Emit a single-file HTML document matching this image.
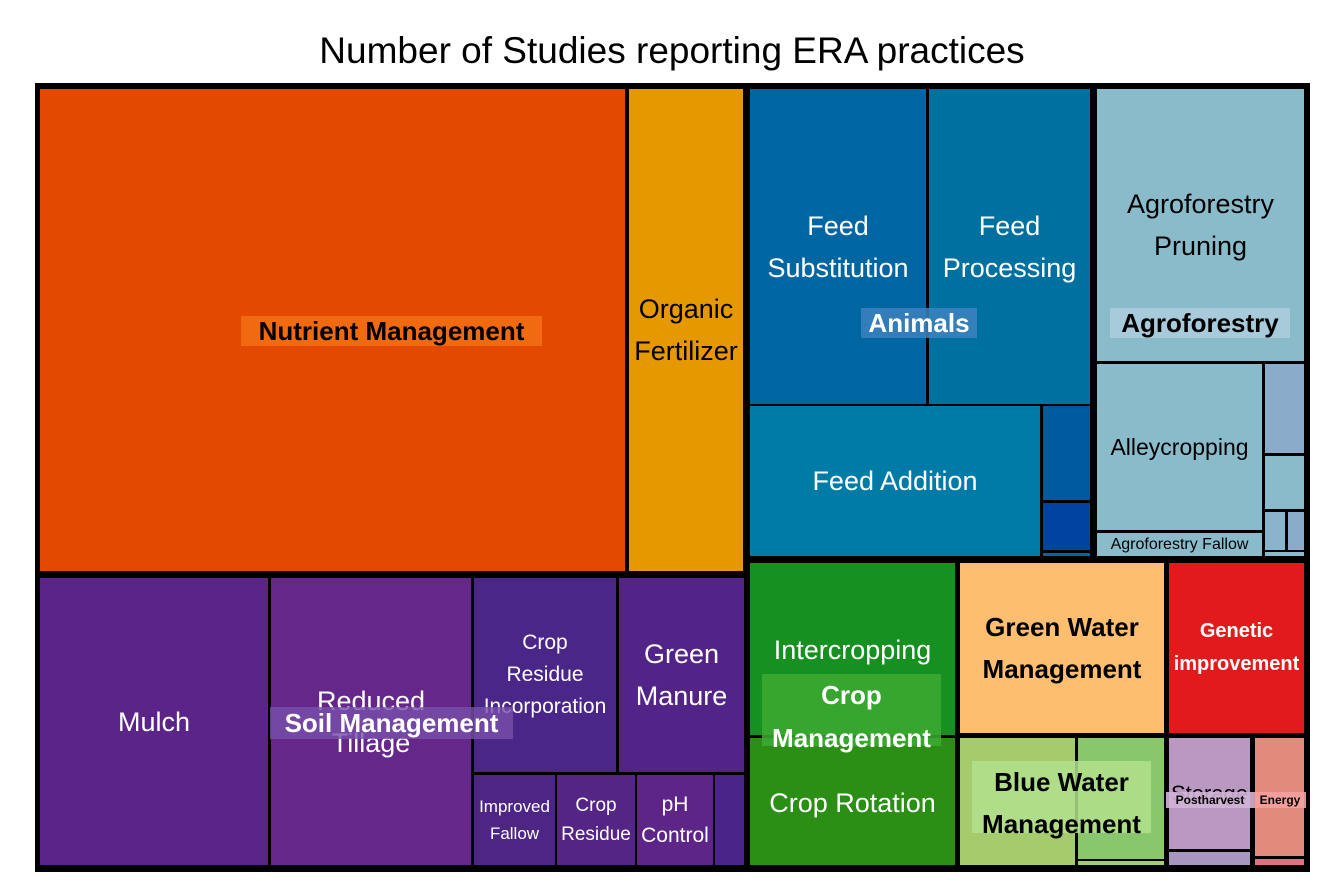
<!DOCTYPE html>
<html><head><meta charset="utf-8"><style>
body{margin:0;width:1344px;height:887px;background:#fff;position:relative;overflow:hidden;font-family:"Liberation Sans",sans-serif}
.t{position:absolute;left:0;width:1344px;top:30px;text-align:center;font-size:37px;color:#000}
.f{position:absolute;left:35px;top:83px;width:1275px;height:789px;background:#000}
.l{position:absolute;display:flex;align-items:center;justify-content:center;text-align:center;color:#fff;font-size:27px;line-height:42px;overflow:visible;white-space:nowrap}
.k{color:#000}
.g{position:absolute;font-weight:bold;font-size:26px;line-height:42px;text-align:center;white-space:nowrap}
</style></head><body>
<div class="t">Number of Studies reporting ERA practices</div>
<div class="f"></div>
<!-- Nutrient -->
<div class="l" style="left:40px;top:89px;width:585px;height:482px;background:#E34A00"></div>
<div class="l k" style="left:629px;top:89px;width:114px;height:482px;background:#E59800">Organic<br>Fertilizer</div>
<div class="g" style="left:241px;top:316px;width:301px;height:30px;line-height:30px;background:#F26A10">Nutrient Management</div>
<!-- Soil -->
<div class="l" style="left:40px;top:578px;width:228px;height:287px;background:#5B2488">Mulch</div>
<div class="l" style="left:271px;top:578px;width:200px;height:287px;background:#66278A">Reduced<br>Tillage</div>
<div class="l" style="left:474px;top:578px;width:142px;height:194px;background:#4A2689;font-size:21px;line-height:32px">Crop<br>Residue<br>Incorporation</div>
<div class="l" style="left:619px;top:578px;width:125px;height:194px;background:#532487">Green<br>Manure</div>
<div class="l" style="left:474px;top:775px;width:81px;height:90px;background:#4D2685;font-size:17px;line-height:27px">Improved<br>Fallow</div>
<div class="l" style="left:557px;top:775px;width:78px;height:90px;background:#552585;font-size:19px;line-height:29px">Crop<br>Residue</div>
<div class="l" style="left:637px;top:775px;width:76px;height:90px;background:#5E2589;font-size:21px;line-height:31px">pH<br>Control</div>
<div class="l" style="left:715px;top:775px;width:29px;height:90px;background:#4A2488"></div>
<div class="g" style="left:270px;top:707px;width:243px;height:32px;line-height:32px;color:#fff;background:rgba(120,80,170,0.8)">Soil Management</div>
<!-- Animals -->
<div class="l" style="left:750px;top:89px;width:176px;height:315px;background:#0066A1">Feed<br>Substitution</div>
<div class="l" style="left:929px;top:89px;width:161px;height:315px;background:#0070A0">Feed<br>Processing</div>
<div class="l" style="left:750px;top:406px;width:290px;height:150px;background:#007BA6">Feed Addition</div>
<div class="l" style="left:1043px;top:406px;width:47px;height:94px;background:#005AA0"></div>
<div class="l" style="left:1043px;top:503px;width:47px;height:47px;background:#0044A0"></div>
<div class="l" style="left:1043px;top:553px;width:47px;height:3px;background:#0066A1"></div>
<div class="g" style="left:861px;top:308px;width:116px;height:30px;line-height:30px;color:#fff;background:rgba(60,130,190,0.85)">Animals</div>
<!-- Agroforestry -->
<div class="l k" style="left:1097px;top:89px;width:207px;height:272px;background:#8ABBCB">Agroforestry<br>Pruning</div>
<div class="l k" style="left:1097px;top:364px;width:165px;height:166px;background:#8ABBCB;font-size:23px">Alleycropping</div>
<div class="l k" style="left:1097px;top:533px;width:165px;height:23px;background:#8ABBCB;font-size:16px">Agroforestry Fallow</div>
<div class="l" style="left:1265px;top:364px;width:39px;height:89px;background:#8AABCA"></div>
<div class="l" style="left:1265px;top:456px;width:39px;height:53px;background:#8ABBCB"></div>
<div class="l" style="left:1265px;top:512px;width:20px;height:38px;background:#8AB4CB"></div>
<div class="l" style="left:1288px;top:512px;width:16px;height:38px;background:#8AABCA"></div>
<div class="l" style="left:1265px;top:552px;width:39px;height:4px;background:#8ABBCB"></div>
<div class="g" style="left:1110px;top:308px;width:180px;height:30px;line-height:30px;background:rgba(170,205,220,0.9)">Agroforestry</div>
<!-- Crop management -->
<div class="l" style="left:750px;top:563px;width:205px;height:172px;background:#169020;align-items:flex-start;padding-top:0"><span style="position:relative;top:66px">Intercropping</span></div>
<div class="l" style="left:750px;top:738px;width:205px;height:127px;background:#2A8F14;align-items:flex-start"><span style="position:relative;top:44px">Crop Rotation</span></div>
<div class="g" style="left:762px;top:674px;width:179px;height:72px;line-height:43px;color:#fff;background:rgba(60,170,50,0.85)">Crop<br>Management</div>
<!-- Green water -->
<div class="l k" style="left:960px;top:563px;width:204px;height:170px;background:#FDBE6F;font-weight:bold;font-size:26px">Green Water<br>Management</div>
<!-- Genetic -->
<div class="l" style="left:1169px;top:563px;width:135px;height:170px;background:#E31A1C;font-weight:bold;font-size:20px;line-height:33px">Genetic<br>improvement</div>
<!-- Blue water -->
<div class="l" style="left:960px;top:738px;width:115px;height:127px;background:#A6CB6C"></div>
<div class="l" style="left:1078px;top:738px;width:86px;height:121px;background:#89C76D"></div>
<div class="l" style="left:1078px;top:861px;width:86px;height:4px;background:#A6CB6C"></div>
<div class="g" style="left:972px;top:761px;width:179px;height:72px;line-height:42px;background:rgba(178,225,140,0.85)">Blue Water<br>Management</div>
<!-- Postharvest / Energy -->
<div class="l k" style="left:1169px;top:738px;width:81px;height:111px;background:#BB98C2;font-size:22px">Storage</div>
<div class="l" style="left:1169px;top:852px;width:81px;height:13px;background:#A896BF"></div>
<div class="l" style="left:1255px;top:738px;width:49px;height:118px;background:#E28B7A"></div>
<div class="l" style="left:1255px;top:859px;width:49px;height:6px;background:#E0717F"></div>
<div class="g" style="left:1166px;top:792px;width:88px;height:16px;line-height:16px;font-size:12px;background:rgba(210,180,215,0.9)">Postharvest</div>
<div class="g" style="left:1254px;top:792px;width:52px;height:16px;line-height:16px;font-size:12px;background:rgba(245,160,160,0.9)">Energy</div>
</body></html>
